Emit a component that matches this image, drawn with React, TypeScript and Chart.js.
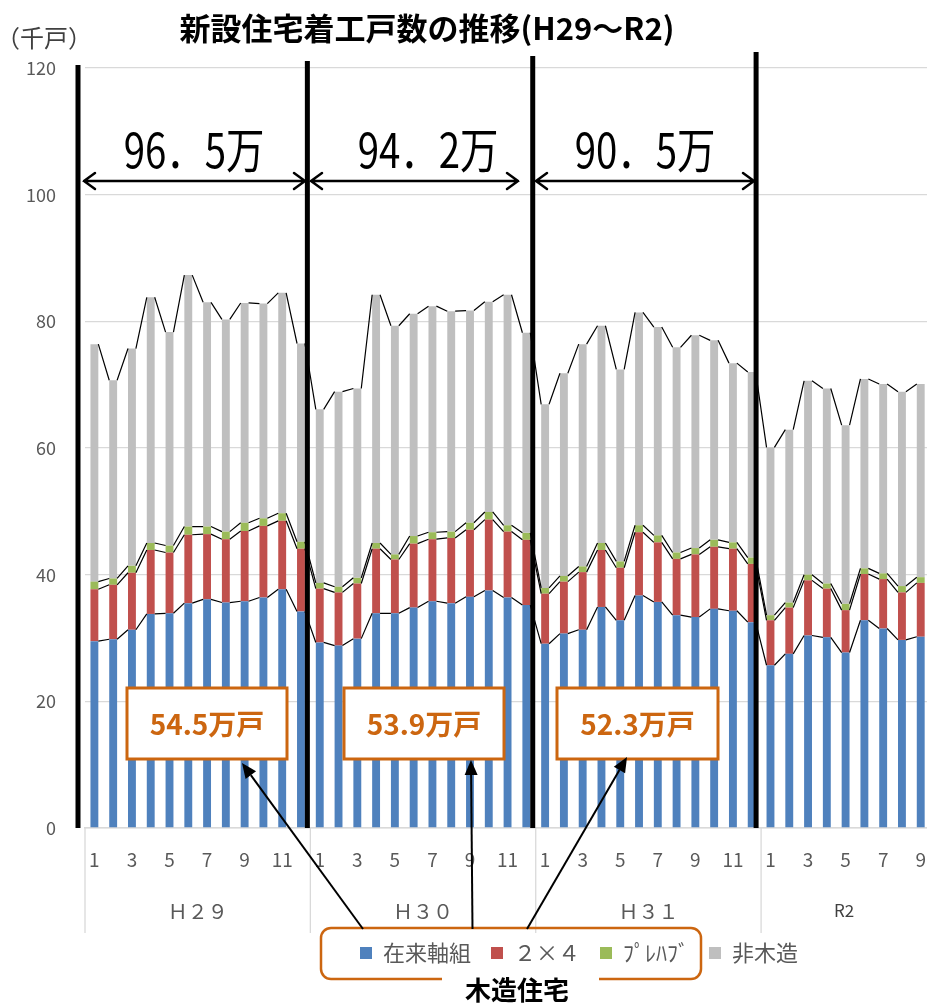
import React, { useEffect, useRef } from 'react';
import { Chart, registerables } from 'chart.js';

Chart.register(...registerables);

// ---- data ----
const monthLabels = [
  '1', '2', '3', '4', '5', '6', '7', '8', '9', '10', '11', '12',
  '1', '2', '3', '4', '5', '6', '7', '8', '9', '10', '11', '12',
  '1', '2', '3', '4', '5', '6', '7', '8', '9', '10', '11', '12',
  '1', '2', '3', '4', '5', '6', '7', '8', '9',
];
const yearLabels = ['Ｈ２９', 'Ｈ３０', 'Ｈ３１', 'R2'];
const yearMonths = [12, 12, 12, 9];

const seriesNames = ['在来軸組', '２×４', 'ﾌﾟﾚﾊﾌﾞ', '非木造'];

const zairai = [
  29.5, 29.8, 31.3, 33.8, 33.9, 35.5, 36.1, 35.6, 35.8, 36.4, 37.7, 34.2,
  29.3, 28.8, 29.9, 33.9, 33.9, 34.8, 35.8, 35.5, 36.5, 37.5, 36.4, 35.2,
  29.1, 30.7, 31.3, 34.9, 32.8, 36.7, 35.7, 33.6, 33.3, 34.6, 34.3, 32.5,
  25.7, 27.5, 30.4, 30.1, 27.7, 32.8, 31.5, 29.7, 30.2,
];
const twoByFour = [
  8.2, 8.6, 9.0, 10.1, 9.6, 10.8, 10.3, 10.0, 11.1, 11.3, 10.8, 9.9,
  8.5, 8.4, 8.7, 10.2, 8.5, 10.1, 9.8, 10.3, 10.6, 11.2, 10.4, 10.3,
  7.9, 8.2, 9.1, 9.0, 8.3, 10.0, 9.4, 8.9, 9.9, 9.8, 9.8, 9.2,
  7.1, 7.3, 8.7, 7.7, 6.7, 7.3, 7.8, 7.5, 8.5,
];
const prefab = [
  1.2, 1.0, 1.1, 1.1, 1.1, 1.3, 1.2, 1.2, 1.3, 1.2, 1.2, 1.1,
  0.9, 0.9, 0.9, 0.9, 0.8, 1.2, 1.1, 1.0, 1.1, 1.2, 1.0, 1.1,
  0.9, 0.9, 0.9, 1.1, 1.0, 1.1, 1.1, 1.0, 1.0, 1.1, 1.0, 1.0,
  0.8, 0.8, 0.9, 0.8, 1.0, 0.9, 0.9, 1.0, 0.9,
];
const nonWood = [
  37.5, 31.3, 34.3, 38.8, 33.7, 39.7, 35.4, 33.5, 34.7, 33.9, 34.8, 31.3,
  27.4, 30.8, 29.9, 39.2, 36.1, 35.1, 35.7, 34.8, 33.5, 33.2, 36.4, 31.6,
  29.0, 32.0, 35.1, 34.3, 30.3, 33.6, 32.9, 32.4, 33.6, 31.5, 28.3, 29.3,
  26.5, 27.3, 30.6, 30.8, 28.2, 29.9, 29.9, 30.7, 30.5,
];

const yMin = 0;
const yMax = 120;
const yStep = 20;

const periodTotals = ['96．5万', '94．2万', '90．5万'];
const woodTotals = ['54.5万戸', '53.9万戸', '52.3万戸'];

// ---- styles ----
const FONT = "'Noto Sans CJK JP', 'Noto Sans', sans-serif";
const COLORS = ['#4F81BD', '#C0504D', '#9BBB59', '#BFBFBF'];
const ORANGE = '#CC6610';
const GRAY_TEXT = '#595959';

const seriesLinesPlugin = {
  id: 'seriesLines',
  afterDatasetsDraw(chart: any) {
    const ctx = chart.ctx;
    ctx.save();
    ctx.strokeStyle = '#000';
    ctx.lineWidth = 1.2;
    chart.data.datasets.forEach((_ds: any, d: number) => {
      const meta = chart.getDatasetMeta(d);
      ctx.beginPath();
      for (let i = 0; i < meta.data.length - 1; i++) {
        const a: any = meta.data[i];
        const b: any = meta.data[i + 1];
        ctx.moveTo(a.x + a.width / 2, a.y);
        ctx.lineTo(b.x - b.width / 2, b.y);
      }
      ctx.stroke();
    });
    ctx.restore();
  },
};

function filledArrow(ctx: CanvasRenderingContext2D, x0: number, y0: number, x1: number, y1: number) {
  const ang = Math.atan2(y1 - y0, x1 - x0);
  const len = 15;
  const hw = 6.5;
  const bx = x1 - Math.cos(ang) * len;
  const by = y1 - Math.sin(ang) * len;
  ctx.beginPath();
  ctx.moveTo(x0, y0);
  ctx.lineTo(bx, by);
  ctx.stroke();
  ctx.beginPath();
  ctx.moveTo(x1, y1);
  ctx.lineTo(bx + Math.sin(ang) * hw, by - Math.cos(ang) * hw);
  ctx.lineTo(bx - Math.sin(ang) * hw, by + Math.cos(ang) * hw);
  ctx.closePath();
  ctx.fill();
}

const annotationPlugin = {
  id: 'annotations',
  beforeInit(chart: any) {
    const lg = chart.legend;
    if (lg) {
      const origFit = lg.fit.bind(lg);
      lg.fit = function () {
        origFit();
        this.height = 50;
      };
    }
  },
  afterLayout(chart: any) {
    const lg = chart.legend;
    if (lg) {
      const w = lg.right - lg.left;
      const h = lg.bottom - lg.top;
      lg.left = 340;
      lg.right = 340 + w;
      lg.top = 922;
      lg.bottom = 922 + h;
    }
  },
  afterDraw(chart: any) {
    const ctx: CanvasRenderingContext2D = chart.ctx;
    const xs = chart.scales.x;
    const area = chart.chartArea;
    const boundary = (k: number) => {
      if (k <= 0) return area.left;
      if (k >= monthLabels.length) return area.right;
      return (xs.getPixelForValue(k - 1) + xs.getPixelForValue(k)) / 2;
    };
    ctx.save();

    // title
    ctx.fillStyle = '#000';
    ctx.font = `bold 31px ${FONT}`;
    ctx.textAlign = 'center';
    ctx.textBaseline = 'middle';
    ctx.fillText('新設住宅着工戸数の推移(H29～R2)', 427, 28);

    // unit
    ctx.font = `24px ${FONT}`;
    ctx.fillStyle = '#404040';
    ctx.textAlign = 'left';
    ctx.fillText('（千戸）', -4, 38);

    // group separators and year labels
    const starts: number[] = [];
    let acc = 0;
    yearMonths.forEach((m) => {
      starts.push(acc);
      acc += m;
    });
    ctx.strokeStyle = '#D9D9D9';
    ctx.lineWidth = 1.3;
    starts.forEach((s) => {
      const x = boundary(s);
      ctx.beginPath();
      ctx.moveTo(x, area.bottom);
      ctx.lineTo(x, 933);
      ctx.stroke();
    });
    ctx.textAlign = 'center';
    yearLabels.forEach((lab, i) => {
      const x0 = boundary(starts[i]);
      const x1 = boundary(starts[i] + yearMonths[i]);
      const cx = (x0 + Math.min(x1, 927)) / 2;
      if (lab === 'R2') {
        ctx.font = `17px ${FONT}`;
        ctx.fillStyle = '#404040';
      } else {
        ctx.font = `20px ${FONT}`;
        ctx.fillStyle = GRAY_TEXT;
      }
      ctx.fillText(lab, cx, 911);
    });

    // thick vertical dividers
    const divOffsets = [-7, -3, -3, -5];
    const divTops = [65, 61, 56, 52];
    ctx.strokeStyle = '#000';
    ctx.lineWidth = 5;
    starts.forEach((s, i) => {
      const x = boundary(s) + divOffsets[i];
      ctx.beginPath();
      ctx.moveTo(x, divTops[i]);
      ctx.lineTo(x, area.bottom);
      ctx.stroke();
    });

    // double arrows with totals
    const spans = [
      [84, 305],
      [311, 518],
      [536, 754],
    ];
    const textCx = [194, 428, 645];
    ctx.lineWidth = 2.5;
    ctx.lineCap = 'round';
    spans.forEach(([a, b], i) => {
      const y = 181;
      ctx.beginPath();
      ctx.moveTo(a, y);
      ctx.lineTo(b, y);
      ctx.moveTo(a + 11, y - 8);
      ctx.lineTo(a, y);
      ctx.lineTo(a + 11, y + 8);
      ctx.moveTo(b - 11, y - 8);
      ctx.lineTo(b, y);
      ctx.lineTo(b - 11, y + 8);
      ctx.stroke();
      ctx.save();
      ctx.translate(textCx[i], 150);
      ctx.scale(0.8, 1);
      ctx.font = `48px ${FONT}`;
      ctx.fillStyle = '#000';
      ctx.textAlign = 'center';
      ctx.textBaseline = 'middle';
      ctx.fillText(periodTotals[i], 0, 0);
      ctx.restore();
    });
    ctx.lineCap = 'butt';

    // orange boxes with wooden totals
    const boxes = [
      [127, 688, 160, 71],
      [344, 688, 160, 71],
      [557, 688, 161, 71],
    ];
    boxes.forEach(([bx, by, bw, bh], i) => {
      ctx.fillStyle = '#fff';
      ctx.fillRect(bx, by, bw, bh);
      ctx.strokeStyle = ORANGE;
      ctx.lineWidth = 3;
      ctx.strokeRect(bx, by, bw, bh);
      ctx.fillStyle = ORANGE;
      ctx.font = `bold 28px ${FONT}`;
      ctx.textAlign = 'center';
      ctx.textBaseline = 'middle';
      ctx.fillText(woodTotals[i], bx + bw / 2, by + bh / 2 + 1);
    });

    // legend group frame
    const L = 321, R = 701, T = 928, B = 979, r = 10;
    ctx.strokeStyle = ORANGE;
    ctx.lineWidth = 2.5;
    ctx.beginPath();
    ctx.moveTo(442, B);
    ctx.lineTo(L + r, B);
    ctx.arcTo(L, B, L, B - r, r);
    ctx.lineTo(L, T + r);
    ctx.arcTo(L, T, L + r, T, r);
    ctx.lineTo(R - r, T);
    ctx.arcTo(R, T, R, T + r, r);
    ctx.lineTo(R, B - r);
    ctx.arcTo(R, B, R - r, B, r);
    ctx.lineTo(599, B);
    ctx.stroke();

    ctx.fillStyle = '#000';
    ctx.font = `bold 26px ${FONT}`;
    ctx.textAlign = 'center';
    ctx.textBaseline = 'middle';
    ctx.fillText('木造住宅', 517, 990);

    // arrows from legend to boxes
    ctx.strokeStyle = '#000';
    ctx.fillStyle = '#000';
    ctx.lineWidth = 2;
    filledArrow(ctx, 363, 929, 242, 763);
    filledArrow(ctx, 472.5, 929, 471, 760);
    filledArrow(ctx, 527, 929, 627, 757);

    ctx.restore();
  },
};

export default function App() {
  const ref = useRef<HTMLCanvasElement>(null);

  useEffect(() => {
    const canvas = ref.current;
    if (!canvas) return;
    const values = [zairai, twoByFour, prefab, nonWood];
    const chart = new Chart(canvas, {
      type: 'bar',
      data: {
        labels: monthLabels,
        datasets: values.map((v, i) => ({
          label: seriesNames[i],
          data: v,
          backgroundColor: COLORS[i],
          borderWidth: 0,
          categoryPercentage: 1,
          barPercentage: 0.42,
        })),
      },
      options: {
        responsive: false,
        animation: false,
        layout: { padding: { top: 68, left: 0, right: 0, bottom: 23 } },
        plugins: {
          legend: {
            display: true,
            position: 'bottom',
            align: 'start',
            labels: {
              boxWidth: 12,
              boxHeight: 12,
              padding: 20,
              color: GRAY_TEXT,
              font: { family: FONT, size: 22 },
            },
          },
          tooltip: { enabled: false },
          title: { display: false },
        },
        scales: {
          x: {
            stacked: true,
            grid: { display: false, drawTicks: false },
            border: { display: true, color: '#D9D9D9', width: 1.5 },
            ticks: {
              autoSkip: false,
              maxRotation: 0,
              minRotation: 0,
              padding: 20,
              color: GRAY_TEXT,
              font: { family: FONT, size: 19 },
              callback: (_v: any, idx: number) => {
                const m = parseInt(monthLabels[idx], 10);
                return m % 2 === 1 ? monthLabels[idx] : '';
              },
            },
            afterFit: (scale: any) => {
              scale.height = 102;
            },
          },
          y: {
            stacked: true,
            min: yMin,
            max: yMax,
            grid: { color: '#D9D9D9', lineWidth: 1.3, drawTicks: false },
            border: { display: false },
            ticks: {
              stepSize: yStep,
              padding: 29,
              color: GRAY_TEXT,
              font: { family: FONT, size: 18 },
            },
            afterFit: (scale: any) => {
              scale.width = 85;
            },
          },
        },
      },
      plugins: [seriesLinesPlugin, annotationPlugin],
    } as any);
    return () => chart.destroy();
  }, []);

  return (
    <div
      style={{
        position: 'absolute',
        left: 0,
        top: 0,
        width: 927,
        height: 1003,
        overflow: 'hidden',
        background: '#fff',
      }}
    >
      <canvas ref={ref} width={946} height={1003} style={{ display: 'block', width: 946, height: 1003 }} />
    </div>
  );
}
